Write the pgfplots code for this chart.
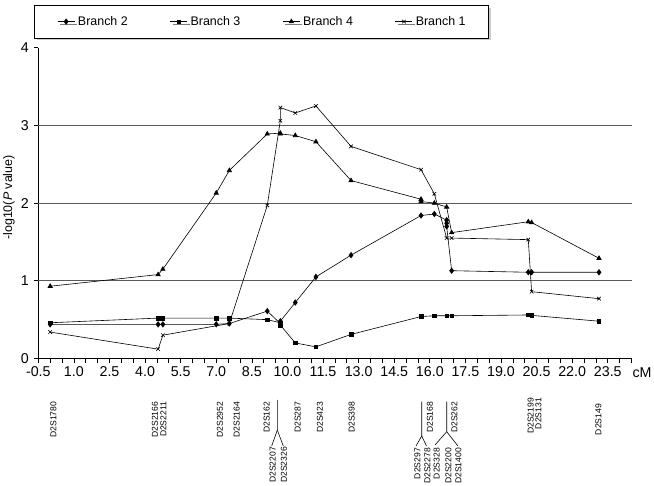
\documentclass[border=0pt]{standalone}
\usepackage{fontspec}
\setmainfont{Liberation Sans}
\usepackage{pgfplots}
\usepackage{pgfplotstable}
\pgfplotsset{compat=1.18}
\usetikzlibrary{shadows}

\pgfplotstableread{
x y
0.00 0.44
4.55 0.44
4.75 0.44
7.00 0.44
7.55 0.45
9.15 0.61
9.70 0.45
9.70 0.48
10.33 0.72
11.20 1.05
12.68 1.33
15.63 1.84
16.19 1.86
16.71 1.78
16.71 1.74
16.71 1.70
16.92 1.13
20.15 1.11
20.29 1.11
23.13 1.11
}\branchtwo

\pgfplotstableread{
x y
0.00 0.46
4.55 0.52
4.75 0.52
7.00 0.52
7.55 0.52
9.15 0.50
9.70 0.46
9.70 0.43
10.33 0.20
11.20 0.15
12.68 0.31
15.63 0.54
16.19 0.55
16.71 0.55
16.92 0.55
20.15 0.56
20.29 0.555
23.13 0.48
}\branchthree

\pgfplotstableread{
x y
0.00 0.93
4.55 1.08
4.75 1.15
7.00 2.13
7.55 2.42
9.15 2.89
9.70 2.90
9.70 2.89
10.33 2.87
11.20 2.79
12.68 2.29
15.63 2.05
15.63 2.02
16.19 2.00
16.71 1.95
16.92 1.62
20.15 1.76
20.29 1.75
23.13 1.29
}\branchfour

\pgfplotstableread{
x y
0.00 0.34
4.55 0.12
4.75 0.30
7.55 0.45
9.15 1.97
9.70 3.06
9.70 3.23
10.33 3.16
11.20 3.25
12.68 2.73
15.63 2.43
16.19 2.12
16.71 1.55
16.92 1.55
20.15 1.53
20.29 0.86
23.13 0.77
}\branchone

\newcommand{\lab}[3]{\node[rotate=90, anchor=east, inner sep=0pt, font=\fontsize{8.6}{9}\selectfont] at (#1bp,#2bp) {#3};}

\begin{document}
\begin{tikzpicture}
\path[use as bounding box] (0,0) rectangle (654bp,486bp);
\begin{axis}[
  at={(38.3bp,127.5bp)}, anchor=south west,
  scale only axis, width=593.2bp, height=310.8bp,
  xmin=-0.5, xmax=24.5, ymin=0, ymax=4,
  axis x line*=bottom, axis y line*=left,
  axis line style={black, line width=0.7bp},
  xtick={-0.5,0,...,24.5},
  xticklabels={-0.5,,,1.0,,,2.5,,,4.0,,,5.5,,,7.0,,,8.5,,,10.0,,,11.5,,,13.0,,,14.5,,,16.0,,,17.5,,,19.0,,,20.5,,,22.0,,,23.5,,},
  ytick={0,1,2,3,4}, yticklabels={0,1,2,3,4},
  tick align=outside, major tick length=4.5bp,
  tick style={black, line width=0.7bp},
  extra y ticks={1,2,3}, extra y tick labels={},
  extra y tick style={grid=major, tick style={draw=none}},
  major grid style={black!65, line width=0.7bp},
  ticklabel style={font=\fontsize{14.3}{16}\selectfont},
  xticklabel style={yshift=-0.5bp},
  yticklabel style={xshift=-1.5bp},
  clip=false,
  legend columns=4,
  legend cell align=left,
  legend image code/.code={\draw[mark repeat=2,mark phase=2,#1] plot coordinates {(0bp,0bp) (8.5bp,0bp) (17bp,0bp)};},
  legend style={at={(-0.00725,1.1374)}, anchor=north west, draw=black, line width=0.7bp, fill=white,
    drop shadow={shadow xshift=2.5bp, shadow yshift=-2.5bp, fill=black!40},
    font=\fontsize{12.5}{14}\selectfont, inner xsep=23bp, inner ysep=11bp,
    nodes={inner sep=0pt},
    /tikz/every odd column/.append style={column sep=3bp},
    /tikz/every even column/.append style={column sep=0bp}},
]
\addplot[black, line width=0.6bp, mark=diamond*, mark size=2.7bp] table[x=x,y=y] {\branchtwo};
\addlegendentry{\makebox[92bp][l]{Branch 2}}
\addplot[black, line width=0.6bp, mark=square*, mark size=1.8bp] table[x=x,y=y] {\branchthree};
\addlegendentry{\makebox[92bp][l]{Branch 3}}
\addplot[black, line width=0.6bp, mark=triangle*, mark size=2.5bp] table[x=x,y=y] {\branchfour};
\addlegendentry{\makebox[92bp][l]{Branch 4}}
\addplot[black, line width=0.6bp, mark=x, mark size=2.5bp, mark options={line width=0.6bp}] table[x=x,y=y] {\branchone};
\addlegendentry{Branch 1}
\end{axis}

% axis labels
\node[rotate=90, inner sep=0pt, font=\fontsize{12.5}{14}\selectfont] at (9bp,288.5bp) {-log10(\textit{P} value)};
\node[inner sep=0pt, font=\fontsize{14.3}{16}\selectfont] at (642bp,113bp) {cM};

% marker labels (upper row)
\lab{53.3}{84.3}{D2S1780}
\lab{155}{84.3}{D2S2166}
\lab{163.3}{84.3}{D2S2211}
\lab{220}{84.3}{D2S2952}
\lab{236.7}{84.3}{D2S2164}
\lab{266.7}{84.3}{D2S162}
\lab{297.7}{84.3}{D2S287}
\lab{320}{84.3}{D2S423}
\lab{351.7}{84.3}{D2S398}
\lab{430}{84.3}{D2S168}
\lab{454.3}{84.3}{D2S262}
\lab{530.7}{88}{D2S2199}
\lab{538.3}{88}{D2S131}
\lab{598.3}{82}{D2S149}
% lower row
\lab{272.7}{39}{D2S2207}
\lab{284}{39}{D2S2326}
\lab{417.3}{38}{D2S297}
\lab{427.3}{38}{D2S2278}
\lab{436.7}{38}{D2S328}
\lab{448.3}{38}{D2S2200}
\lab{458.3}{38}{D2S1400}
% junction lines
\draw[black, line width=0.6bp] (277.3bp,86bp) -- (277.3bp,56bp) -- (271.7bp,40bp);
\draw[black, line width=0.6bp] (277.3bp,56bp) -- (283.3bp,40bp);
\draw[black, line width=0.6bp] (421.7bp,84.3bp) -- (421.7bp,50bp) -- (416bp,40bp);
\draw[black, line width=0.6bp] (421.7bp,50bp) -- (426.5bp,40bp);
\draw[black, line width=0.6bp] (446.7bp,84.3bp) -- (446.7bp,54.3bp) -- (435bp,41bp);
\draw[black, line width=0.6bp] (446.7bp,54.3bp) -- (458bp,40bp);
\end{tikzpicture}
\end{document}
